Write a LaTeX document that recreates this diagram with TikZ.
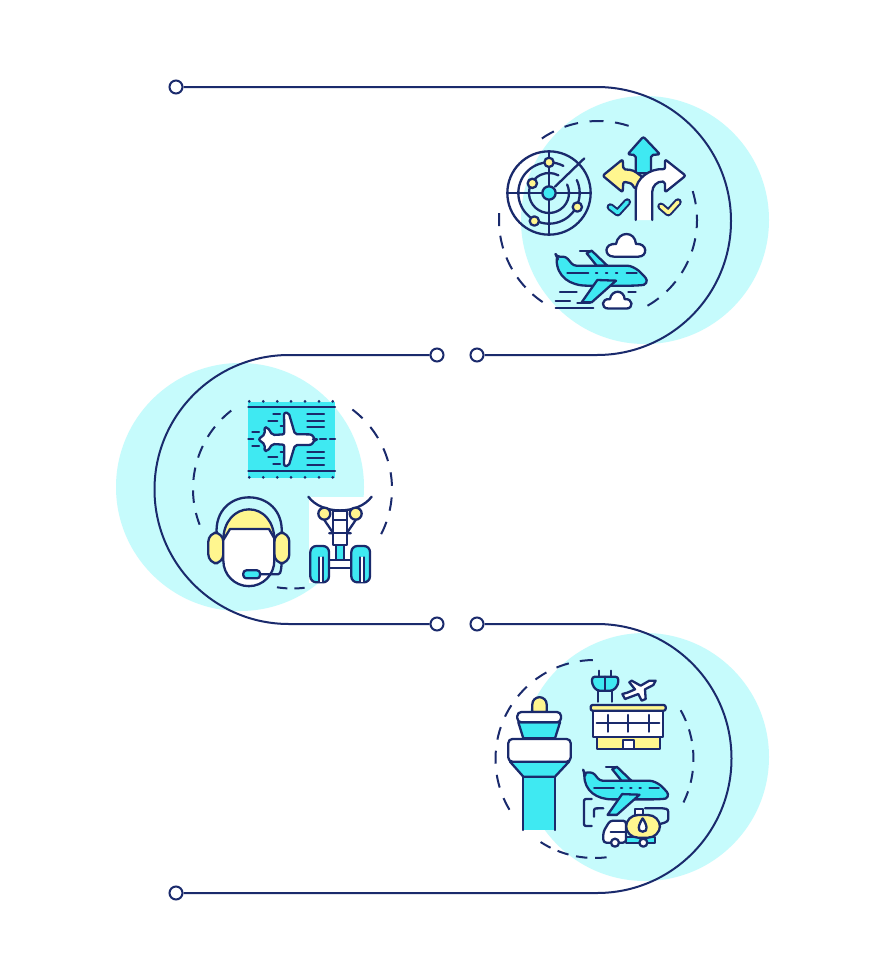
\documentclass[tikz,border=0pt]{standalone}
\definecolor{navy}{HTML}{1A2A6C}
\definecolor{palecyan}{HTML}{C6FBFC}
\definecolor{iconcyan}{HTML}{3FE9F2}
\definecolor{iconyellow}{HTML}{FFF68F}
\tikzset{
    dot/.style={circle, draw=navy, fill=white, line width=2pt, minimum size=13pt, inner sep=0pt},
    route/.style={draw=navy, line width=2pt},
    blob/.style={fill=palecyan},
    dashring/.style 2 args={draw=navy, line width=2pt, dash pattern=on #1pt off #2pt},
    ink/.style={draw=navy, line width=2.3pt, line join=round, line cap=round},
    plane/.pic={
        \draw[ink] (270,422) -- (305,422);
        \draw[ink, fill=iconcyan] (290,430) -- (305,422) -- (352,467) -- (320,467) -- cycle;
        \draw[ink, fill=iconcyan, rounded corners=3pt] (200,440) -- (228,440) -- (250,467) -- (420,467) .. controls (445,480) .. (473,510) .. controls (465,525) .. (430,527) -- (300,527) .. controls (240,527) and (200,500) .. cycle;
        \draw[ink, fill=iconcyan] (322,510) -- (378,512) -- (305,577) -- (275,577) -- cycle;
        \draw[ink] (232,490) -- (295,490) (318,490) -- (322,490) (348,490) -- (352,490) (378,490) -- (382,490) (410,490) -- (440,490);
    },
    fluffy/.pic={
        \draw[ink, fill=white] (372,440) .. controls (340,440) and (342,398) .. (378,402) .. controls (385,362) and (435,362) .. (438,402) .. controls (472,398) and (475,440) .. (445,440) -- cycle;
    }
}
\begin{document}
\begin{tikzpicture}[x=1pt, y=-1pt]
    \useasboundingbox (0,0) rectangle (896,980);
    \fill[white] (0,0) rectangle (896,980);
    % pale discs
    \fill[blob] (645,220) circle[radius=124];
    \fill[blob] (240,487) circle[radius=124];
    \fill[blob] (645,757) circle[radius=124];

    % dashed rings
    \draw[dashring={14}{11.6}] (598,220) ++(-72:99) arc[start angle=-72, end angle=-125, radius=99];
    \draw[dashring={13}{9.7}] (598,220) ++(-176:99) arc[start angle=-176, end angle=-236, radius=99];
    \draw[dashring={13.5}{10.4}] (598,220) ++(-300:99) arc[start angle=-300, end angle=-377, radius=99];
    \draw[dashring={12.5}{10.4}] (292.5,489) ++(-128:99.5) arc[start angle=-128, end angle=-201, radius=99.5];
    \draw[dashring={13.5}{11.6}] (292.5,489) ++(-53:99.5) arc[start angle=-53, end angle=27, radius=99.5];
    \draw[dashring={10.5}{7}] (292.5,489) ++(99:99.5) arc[start angle=99, end angle=83, radius=99.5];
    \draw[dashring={13}{11.25}] (594.5,759) ++(-91:99) arc[start angle=-91, end angle=-211, radius=99];
    \draw[dashring={11.5}{7.7}] (594.5,759) ++(-237:99) arc[start angle=-237, end angle=-277, radius=99];
    \draw[dashring={12}{9}] (594.5,759) ++(26:99) arc[start angle=26, end angle=-29.5, radius=99];

    % route
    \node[dot] (startdot) at (176,87) {};
    \node[dot] (uprightdot) at (477,355) {};
    \node[dot] (upleftdot) at (437,355) {};
    \node[dot] (lowleftdot) at (437,624) {};
    \node[dot] (lowrightdot) at (477,624) {};
    \node[dot] (enddot) at (176,893) {};
    \draw[route] (startdot) -- (597,87) arc[start angle=-90, end angle=90, radius=134] -- (uprightdot);
    \draw[route] (upleftdot) -- (289,355) arc[start angle=-90, end angle=-270, radius=134.5] -- (lowleftdot);
    \draw[route] (lowrightdot) -- (597,624) arc[start angle=-90, end angle=90, radius=134.5] -- (enddot);

    % top icons
    \begin{scope}[shift={(490,110)}, scale=1/3]
        \draw[ink] (177,249) circle[radius=125];
        \draw[ink] (177,249) ++(-25:92) arc[start angle=-25, end angle=298, radius=92];
        \draw[ink] (177,249) ++(-25:60) arc[start angle=-25, end angle=298, radius=60];
        \draw[ink] (52,249) -- (302,249) (177,124) -- (177,374);
        \draw[ink] (195,230) -- (283,145);
        \draw[ink, fill=iconcyan] (177,249) circle[radius=20];
        \foreach \dotx/\doty in {177/157, 127/220, 262/291, 133/333}
            \draw[ink, fill=iconyellow] (\dotx,\doty) circle[radius=14];
        \draw[ink, fill=iconcyan, rounded corners=2pt] (437,190) -- (437,135) -- (413,133) -- (460,80) -- (510,133) -- (483,135) -- (483,190) -- cycle;
        \draw[ink, fill=iconyellow, rounded corners=2pt] (338,197) -- (398,148) -- (400,178) .. controls (430,180) .. (462,205) -- (435,237) .. controls (425,220) .. (400,215) -- (398,247) -- cycle;
        \fill[white] (437,330) -- (437,250) .. controls (437,205) and (480,175) .. (525,178) -- (525,148) -- (587,197) -- (525,247) -- (525,215) .. controls (500,213) and (487,230) .. (487,250) -- (487,330) -- cycle;
        \draw[ink, rounded corners=2pt] (437,330) -- (437,250) .. controls (437,205) and (480,175) .. (525,178) -- (525,148) -- (587,197) -- (525,247) -- (525,215) .. controls (500,213) and (487,230) .. (487,250) -- (487,330);
        \draw[ink, line width=7.5pt] (361,291) -- (383,308) -- (412,276);
        \draw[iconcyan, line width=3.5pt, line cap=round, line join=round] (361,291) -- (383,308) -- (412,276);
        \draw[ink, line width=7.5pt] (513,289) -- (535,308) -- (564,276);
        \draw[iconyellow, line width=3.5pt, line cap=round, line join=round] (513,289) -- (535,308) -- (564,276);
        \pic[transform shape] {fluffy};
        \begin{scope}[shift={(80,270)}, scale=.74]
            \pic[transform shape] {fluffy};
        \end{scope}
        \pic[transform shape] {plane};
        \draw[ink] (210,547) -- (260,547) (197,572) -- (240,572) (197,595) -- (310,595) (262,578) -- (300,578) (415,547) -- (437,547);
    \end{scope}

    % middle icons
    \begin{scope}[shift={(190,390)}, scale=1/3]
        \fill[iconcyan] (175,35) rectangle (435,265);
        \draw[ink] (175,50) -- (435,50) (175,244) -- (435,244);
        \foreach \dotx in {178,220,262,303,345,387,428} {
            \fill[navy] (\dotx,34) circle[radius=4.5];
            \fill[navy] (\dotx,262) circle[radius=4.5];
        }
        \draw[ink] (175,147) -- (190,147) (390,147) -- (408,147) (420,147) -- (435,147);
        \draw[ink] (352,72) -- (402,72) (352,92) -- (402,92) (352,112) -- (402,112) (352,185) -- (402,185) (352,205) -- (402,205) (352,225) -- (402,225);
        \draw[ink] (250,72) -- (270,72) (235,93) -- (262,93) (272,108) -- (278,108) (187,127) -- (207,127) (187,168) -- (207,168) (272,185) -- (278,185) (235,200) -- (262,200) (250,222) -- (270,222);
        \draw[ink, fill=white, rounded corners=2pt] (375,148) .. controls (365,133) .. (340,133) -- (315,133) -- (296,68) -- (282,68) -- (283,133) -- (247,135) -- (233,112) -- (223,112) -- (225,132) -- (205,148) -- (225,164) -- (223,183) -- (233,183) -- (247,162) -- (283,164) -- (282,228) -- (296,228) -- (315,165) -- (340,165) .. controls (365,165) .. cycle;
        % headset
        \draw[ink] (80,432) .. controls (75,360) and (125,322) .. (177,322) .. controls (230,322) and (280,360) .. (275,432);
        \draw[ink, fill=iconyellow, rounded corners=9pt] (100,428) -- (55,428) -- (55,520) -- (100,520) -- cycle;
        \draw[ink, fill=iconyellow, rounded corners=9pt] (253,428) -- (298,428) -- (298,520) -- (253,520) -- cycle;
        \draw[ink, fill=iconyellow] (100,450) .. controls (100,395) and (135,358) .. (177,358) .. controls (220,358) and (253,395) .. (253,450) -- cycle;
        \draw[ink, fill=white] (100,450) -- (120,417) -- (237,417) -- (253,445) -- (253,512) arc[start angle=0, end angle=180, radius=76.5] -- cycle;
        \draw[ink] (210,553) -- (255,553) .. controls (272,553) .. (275,520);
        \draw[ink, fill=iconcyan, rounded corners=3pt] (160,541) rectangle (210,565);
        % landing gear
        \fill[white] (358,320) rectangle (545,578);
        \draw[ink] (355,320) .. controls (395,375) and (505,375) .. (545,320);
        \draw[ink] (403,390) -- (430,430) (497,390) -- (470,430) (418,430) -- (482,430);
        \draw[ink, fill=white] (430,362) rectangle (470,465);
        \draw[ink] (430,390) -- (470,390) (418,430) -- (482,430);
        \draw[ink, fill=iconyellow] (403,371) circle[radius=18];
        \draw[ink, fill=iconyellow] (497,371) circle[radius=18];
        \draw[ink, fill=iconcyan] (438,465) rectangle (462,510);
        \draw[ink, fill=white] (415,510) rectangle (485,535);
        \draw[ink, fill=iconcyan, rounded corners=6pt] (361,468) rectangle (417,577);
        \draw[ink, fill=iconcyan, rounded corners=6pt] (484,468) rectangle (540,577);
        \fill[white] (386,502) rectangle (399,576);
        \fill[white] (509,502) rectangle (522,576);
        \draw[ink] (386,576) -- (386,502) (399,502) -- (399,576) (509,576) -- (509,502) (522,502) -- (522,576);
    \end{scope}

    % bottom icons
    \begin{scope}[shift={(490,650)}, scale=1/3]
        \fill[iconcyan] (100,378) rectangle (195,540);
        \draw[ink] (100,380) -- (100,540) (195,380) -- (195,540);
        \draw[ink, fill=iconcyan] (60,335) -- (237,335) -- (195,380) -- (100,380) -- cycle;
        \draw[ink, fill=white, rounded corners=4pt] (55,267) rectangle (242,335);
        \draw[ink, fill=iconcyan] (85,217) -- (210,217) -- (195,265) -- (100,265) -- cycle;
        \draw[ink, fill=iconyellow] (127,186) -- (127,163) arc[start angle=-180, end angle=0, radius=21.5] -- (170,186) -- cycle;
        \draw[ink, fill=white, rounded corners=4pt] (82,186) rectangle (213,217);
        % small tower
        \draw[ink] (328,62) -- (328,80) (362,62) -- (362,80);
        \draw[ink] (325,122) -- (325,155) (365,122) -- (365,155);
        \draw[ink, fill=iconcyan, rounded corners=3pt] (306,80) -- (385,80) -- (385,103) -- (370,122) -- (320,122) -- (306,103) -- cycle;
        \draw[ink] (345,80) -- (345,122);
        % small plane
        \draw[ink, fill=white] (497,92) -- (478,92) -- (452,107) -- (425,92) -- (418,97) -- (435,118) -- (412,128) -- (397,132) -- (405,147) -- (445,132) -- (455,152) -- (467,147) -- (465,118) -- (490,105) -- cycle;
        % terminal
        \draw[ink, fill=white] (310,182) rectangle (520,260);
        \draw[ink] (320,220) -- (508,220) (353,195) -- (353,245) (415,195) -- (415,245) (478,195) -- (478,245);
        \draw[ink, fill=iconyellow, rounded corners=2pt] (302,165) rectangle (527,182);
        \draw[ink, fill=iconyellow] (320,260) rectangle (510,297);
        \draw[ink, fill=white] (398,270) rectangle (432,297);
        % plane and fuel truck
        \begin{scope}[shift={(97,-42)}, scale=.93]
            \pic[transform shape] {plane};
        \end{scope}
        \draw[ink] (305,447) -- (295,447) .. controls (282,447) .. (282,460) -- (282,515) .. controls (282,528) .. (295,528) -- (305,528);
        \draw[ink] (340,475) -- (325,475) .. controls (312,475) .. (312,490) -- (312,500);
        \draw[ink] (465,475) -- (518,475) .. controls (535,477) .. (535,497) .. controls (535,515) .. (510,522);
        \draw[ink, fill=iconcyan] (408,560) rectangle (495,578);
        \draw[ink, fill=white] (436,477) rectangle (460,497);
        \draw[ink, fill=iconyellow, rounded corners=12pt] (408,495) rectangle (510,563);
        \draw[ink, fill=white, rounded corners=3pt] (408,578) -- (340,578) -- (340,545) -- (360,512) -- (408,512) -- cycle;
        \draw[ink] (362,545) -- (408,545);
        \draw[ink, fill=white] (458,505) .. controls (445,525) and (440,545) .. (458,545) .. controls (476,545) and (471,525) .. cycle;
        \draw[ink, fill=white] (375,578) circle[radius=12];
        \draw[ink, fill=white] (460,578) circle[radius=12];
    \end{scope}
\end{tikzpicture}
\end{document}
